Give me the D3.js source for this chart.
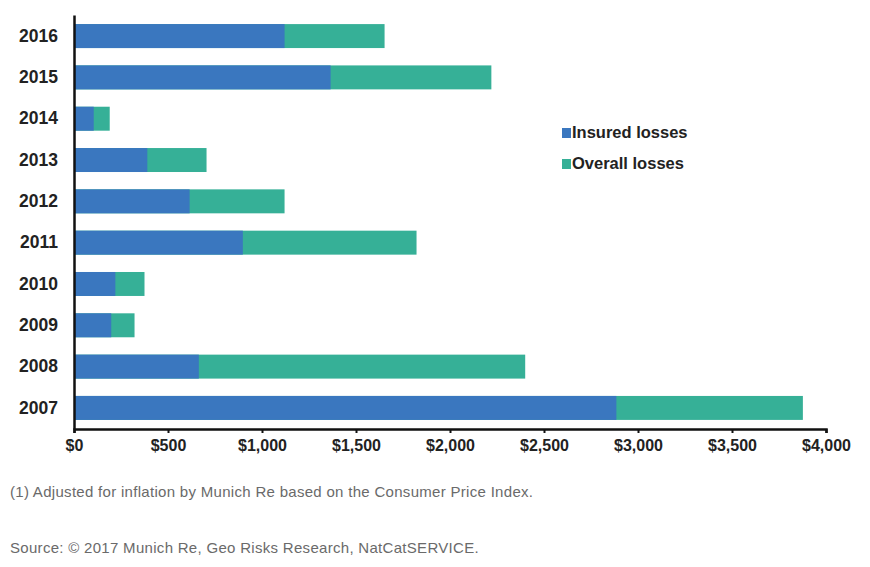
<!DOCTYPE html>
<html>
<head>
<meta charset="utf-8">
<script src="https://cdn.jsdelivr.net/npm/d3@7"></script>
<style>
  body { margin: 0; background: #fff; }
  svg { display: block; font-family: "Liberation Sans", Arial, sans-serif; }
</style>
</head>
<body>
<div id="chart"></div>
<script>
const width = 870;
const height = 567;

// ──── Data (US$ millions) ────
const years = ["2016", "2015", "2014", "2013", "2012", "2011", "2010", "2009", "2008", "2007"];
const insured = [1120, 1365, 105, 390, 615, 898, 220, 198, 664, 2885];
const overall = [1652, 2220, 190, 705, 1120, 1822, 375, 322, 2400, 3877];
const seriesNames = ["Insured losses", "Overall losses"];
const xTicks = [0, 500, 1000, 1500, 2000, 2500, 3000, 3500, 4000];
const notes = [
    "(1) Adjusted for inflation by Munich Re based on the Consumer Price Index.",
    "Source: \u00a9 2017 Munich Re, Geo Risks Research, NatCatSERVICE."
];

const colors = { insured: "#3a77bf", overall: "#36b097" };

const margin = { top: 15, left: 74, right: 44, bottom: 138 };

const svg = d3.select("#chart")
    .append("svg")
    .attr("width", width)
    .attr("height", height);

const x = d3.scaleLinear()
    .domain([0, 4000])
    .range([margin.left, width - margin.right]);

const y = d3.scaleBand()
    .domain(years)
    .range([margin.top, height - margin.bottom])
    .paddingInner(0.42)
    .paddingOuter(0.22);

const rows = years.map((yr, i) => ({ year: yr, insured: insured[i], overall: overall[i] }));

// overall bar first (full length), insured on top
svg.append("g")
    .selectAll("rect")
    .data(rows)
    .join("rect")
    .attr("x", x(0))
    .attr("y", d => y(d.year))
    .attr("width", d => x(d.overall) - x(0))
    .attr("height", y.bandwidth())
    .attr("fill", colors.overall);

svg.append("g")
    .selectAll("rect")
    .data(rows)
    .join("rect")
    .attr("x", x(0))
    .attr("y", d => y(d.year))
    .attr("width", d => x(d.insured) - x(0))
    .attr("height", y.bandwidth())
    .attr("fill", colors.insured);

// ──── Axes ────
const xAxis = svg.append("g")
    .attr("transform", `translate(0,${height - margin.bottom})`)
    .call(d3.axisBottom(x)
        .tickValues(xTicks)
        .tickFormat(d => "$" + d3.format(",")(d))
        .tickSize(4)
        .tickPadding(7));

xAxis.select(".domain").attr("stroke", "#111").attr("stroke-width", 2.5);
xAxis.selectAll(".tick line").attr("stroke", "#111").attr("stroke-width", 2);
xAxis.selectAll(".tick text")
    .attr("font-size", 16)
    .attr("font-weight", "bold")
    .attr("fill", "#222");

const yAxis = svg.append("g")
    .attr("transform", `translate(${margin.left},0)`)
    .call(d3.axisLeft(y).tickSize(0).tickPadding(16));

yAxis.select(".domain").attr("stroke", "#111").attr("stroke-width", 2.5);
yAxis.selectAll(".tick text")
    .attr("font-size", 17.5)
    .attr("font-weight", "bold")
    .attr("fill", "#222");

// ──── Legend ────
const legend = svg.append("g")
    .attr("transform", "translate(562,128)");

legend.selectAll("g")
    .data(seriesNames)
    .join("g")
    .attr("transform", (d, i) => `translate(0,${i * 31})`)
    .each(function(d, i) {
        const g = d3.select(this);
        g.append("rect")
            .attr("width", 9)
            .attr("height", 10)
            .attr("fill", i === 0 ? colors.insured : colors.overall);
        g.append("text")
            .attr("x", 10)
            .attr("y", 10)
            .attr("font-size", 16.5)
            .attr("font-weight", "bold")
            .attr("fill", "#222")
            .text(d);
    });

// ──── Footnotes ────
svg.append("g")
    .selectAll("text")
    .data(notes)
    .join("text")
    .attr("x", 10)
    .attr("y", (d, i) => 497 + i * 56)
    .attr("font-size", 15)
    .attr("letter-spacing", 0.3)
    .attr("fill", "#6a6a6a")
    .text(d => d);
</script>
</body>
</html>
